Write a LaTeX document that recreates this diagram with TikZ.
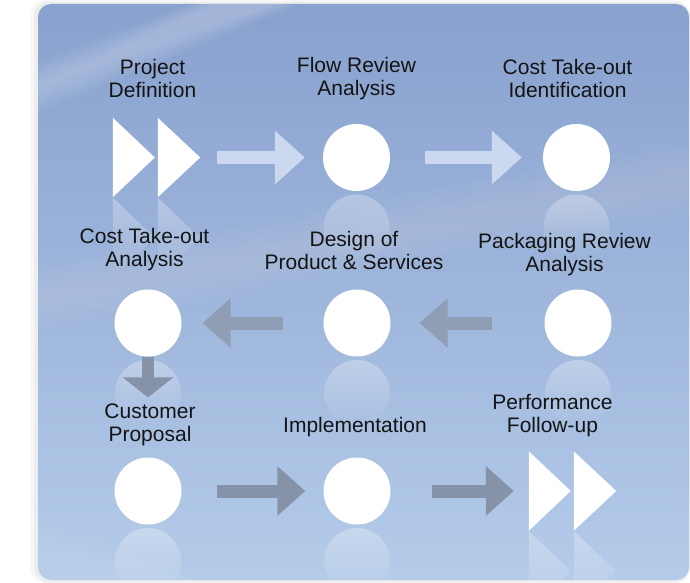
\documentclass[tikz,border=0pt]{standalone}
\usepackage{fontspec}
\setmainfont{Liberation Sans}
\usetikzlibrary{positioning,arrows.meta,fadings}

\definecolor{skydark}{RGB}{136,161,206}
\definecolor{skylight}{RGB}{180,203,233}
\definecolor{flowgray}{RGB}{134,146,168}
\definecolor{flowlight}{RGB}{204,216,240}

\begin{document}
\begin{tikzpicture}[x=1pt, y=-1pt, on grid,
        dot/.style={circle, fill=white, minimum size=67pt, inner sep=0pt},
        twin/.style={minimum width=87pt, minimum height=79pt, inner sep=0pt},
        lbl/.style={align=center, text=black!92, font=\fontsize{21}{23}\selectfont},
        glow/.style={fill=white, opacity=.3, path fading=south},
        light arrow/.style={line width=13pt, flowlight, -{Triangle[length=30pt,width=52pt]}},
        dark arrow/.style={line width=13pt, flowgray, -{Triangle[length=28pt,width=48pt]}}
    ]
        \useasboundingbox (0,0) rectangle (690,583);
        \fill[white] (0,0) rectangle (690,583);

        % Card
        \fill[black, opacity=.03, rounded corners=16pt] (30,0) rectangle (690,583);
        \fill[black, opacity=.04, rounded corners=14pt] (34,2) rectangle (690,582);
        \shade[top color=skydark, bottom color=skylight, rounded corners=13pt] (38,4) rectangle (689,580);
        \begin{scope}
            \clip[rounded corners=13pt] (38,4) rectangle (689,580);
            % soft streaks
            \foreach \w in {0,6,12,18,24} {
                \fill[white, opacity=.05] (38,62+\w) -- (190+\w,4) -- (300-\w,4) -- (38,112-\w) -- cycle;
                \fill[white, opacity=.025] (38,265+\w) -- (689,140+\w) -- (689,215-\w) -- (38,330-\w) -- cycle;
                \fill[white, opacity=.02] (38,520+\w) -- (200-\w,580) -- (38,580) -- cycle;
            }
        \end{scope}

        % Nodes
        \node[twin] (pd) at (156.5,157.5) {};
        \node[dot, right=200pt of pd] (frv) {};
        \node[dot, right=220pt of frv] (cti) {};
        \node[dot] (cta) at (148,323) {};
        \node[dot, right=209pt of cta] (dps) {};
        \node[dot, right=221pt of dps] (prv) {};
        \node[dot, below=168pt of cta] (cp) {};
        \node[dot, right=209pt of cp] (impl) {};
        \node[twin, right=215.5pt of impl] (pf) {};

        % Twin triangles
        \foreach \n in {pd,pf} {
            \fill[white] (\n.north west) -- ([xshift=42pt]\n.west) -- (\n.south west) -- cycle;
            \fill[white] ([xshift=45pt]\n.north west) -- (\n.east) -- ([xshift=45pt]\n.south west) -- cycle;
        }

        % Reflections
        \begin{scope}
            \clip[rounded corners=13pt] (38,4) rectangle (689,580);
            \foreach \n in {frv,cti,cta,dps,prv,cp,impl}
                \fill[glow] ([yshift=-70pt]\n.center) circle[radius=33pt];
            \foreach \n in {pd,pf} {
                \fill[glow] ([yshift=-80pt]\n.north west) -- ([yshift=-80pt, xshift=42pt]\n.west) -- ([yshift=-80pt]\n.south west) -- cycle;
                \fill[glow] ([yshift=-80pt, xshift=45pt]\n.north west) -- ([yshift=-80pt]\n.east) -- ([yshift=-80pt, xshift=45pt]\n.south west) -- cycle;
            }
        \end{scope}

        % Arrows
        \draw[light arrow, shorten <=17pt, shorten >=18pt] (pd) -- (frv);
        \draw[light arrow, shorten <=35pt, shorten >=21pt] (frv) -- (cti);
        \draw[dark arrow, flowgray!80!skylight, shorten <=52pt, shorten >=29pt] (prv) -- (dps);
        \draw[dark arrow, flowgray!80!skylight, shorten <=40pt, shorten >=21pt] (dps) -- (cta);
        \draw[dark arrow, line width=12pt, -{Triangle[length=20pt,width=50pt]}, shorten >=60pt] (cta) -- (cp);
        \draw[dark arrow, shorten <=35pt, shorten >=18pt] (cp) -- (impl);
        \draw[dark arrow, shorten <=41pt, shorten >=15pt] (impl) -- (pf);

        % Labels
        \node[lbl, above=79pt of pd, xshift=-4pt] (pdt) {Project\\Definition};
        \node[lbl, above=79pt of frv] (frvt) {Flow Review\\Analysis};
        \node[lbl, above=79pt of cti, xshift=-9pt] (ctit) {Cost Take-out\\Identification};
        \node[lbl, above=73pt of cta, xshift=-3.5pt] (ctat) {Cost Take-out\\Analysis};
        \node[lbl, above=73pt of dps, xshift=-3pt] (dpst) {Design of\\Product \& Services};
        \node[lbl, above=68pt of prv, xshift=-13.5pt] (prvt) {Packaging Review\\Analysis};
        \node[lbl, above=66pt of cp, xshift=2pt] (cpt) {Customer\\Proposal};
        \node[lbl, above=64pt of impl, xshift=-2pt] (implt) {Implementation};
        \node[lbl, above=75pt of pf, xshift=-20pt] (pft) {Performance\\Follow-up};
    \end{tikzpicture}
\end{document}
